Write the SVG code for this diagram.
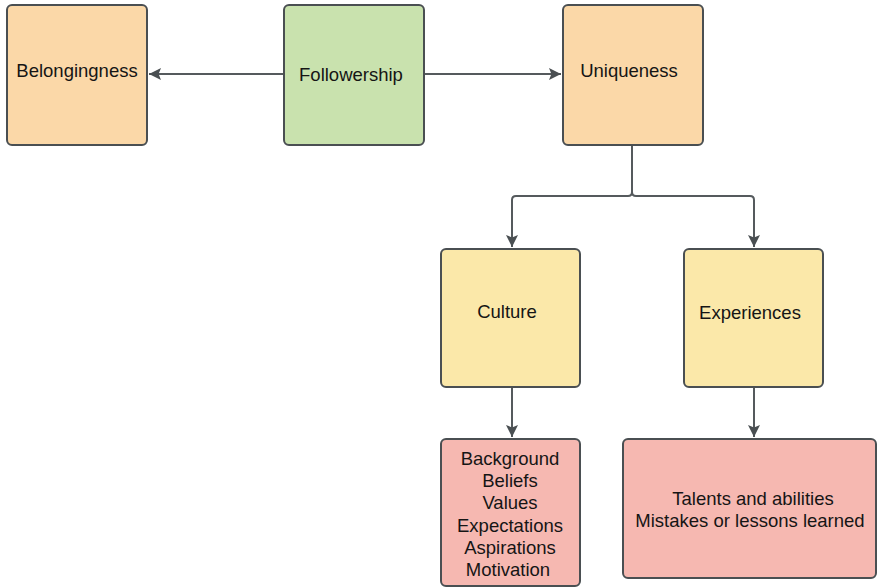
<svg xmlns="http://www.w3.org/2000/svg" width="880" height="587" viewBox="0 0 880 587">
  <style>
    .box { stroke: #4a4f52; stroke-width: 2; }
    .orange { fill: #fbd8a8; }
    .green { fill: #c9e2ae; }
    .yellow { fill: #fbe8a9; }
    .pink { fill: #f6b8b1; }
    .label { font-family: "Liberation Sans", Arial, sans-serif; font-size: 18.5px; fill: #151515; text-anchor: middle; dominant-baseline: central; }
    .edge { fill: none; stroke: #555a5d; stroke-width: 2; marker-end: url(#arrow); }
  </style>
  <defs>
    <marker id="arrow" viewBox="0 0 10 10" refX="10" refY="5" markerWidth="6" markerHeight="6" markerUnits="strokeWidth" orient="auto">
      <path d="M0,0 L10,5 L0,10 L2,5 z" fill="#4a4f52"/>
    </marker>
  </defs>
  <rect width="880" height="587" fill="#ffffff"/>

  <g id="connectors">
    <path class="edge" d="M284 74 H149"/>
    <path class="edge" d="M424 74 H561"/>
    <path class="edge" d="M632 145 V192 Q632 196 628 196 H516 Q512 196 512 200 V247"/>
    <path class="edge" d="M632 145 V192 Q632 196 636 196 H750 Q754 196 754 200 V247"/>
    <path class="edge" d="M512 387 V437"/>
    <path class="edge" d="M754 387 V437"/>
  </g>

  <g id="belongingness">
    <rect class="box orange" x="7" y="5" width="140" height="140" rx="5"/>
    <text class="label" x="77" y="70">Belongingness</text>
  </g>
  <g id="followership">
    <rect class="box green" x="284" y="5" width="140" height="140" rx="5"/>
    <text class="label" x="351" y="74">Followership</text>
  </g>
  <g id="uniqueness">
    <rect class="box orange" x="563" y="5" width="140" height="140" rx="5"/>
    <text class="label" x="629" y="70">Uniqueness</text>
  </g>
  <g id="culture">
    <rect class="box yellow" x="441" y="249" width="139" height="138" rx="5"/>
    <text class="label" x="507" y="311">Culture</text>
  </g>
  <g id="experiences">
    <rect class="box yellow" x="684" y="249" width="139" height="138" rx="5"/>
    <text class="label" x="750" y="312">Experiences</text>
  </g>
  <g id="culture-items">
    <rect class="box pink" x="441" y="439" width="139" height="147" rx="5"/>
    <text class="label" x="510" y="458">Background</text>
    <text class="label" x="510" y="480">Beliefs</text>
    <text class="label" x="510" y="502">Values</text>
    <text class="label" x="510" y="525">Expectations</text>
    <text class="label" x="510" y="547">Aspirations</text>
    <text class="label" x="508" y="569">Motivation</text>
  </g>
  <g id="experience-items">
    <rect class="box pink" x="623" y="439" width="253" height="139" rx="5"/>
    <text class="label" x="753" y="498">Talents and abilities</text>
    <text class="label" x="750" y="520">Mistakes or lessons learned</text>
  </g>
</svg>
